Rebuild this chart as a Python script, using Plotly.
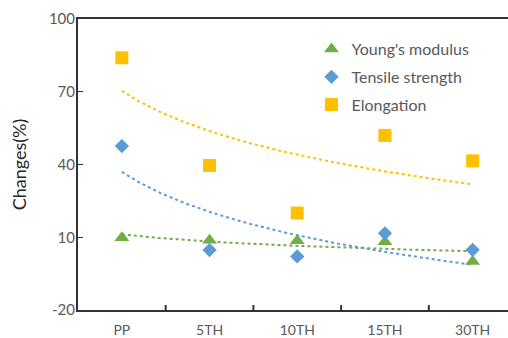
import numpy as np
import plotly.graph_objects as go

categories = ["PP", "5TH", "10TH", "15TH", "30TH"]
youngs_modulus = [9.8, 8.8, 8.6, 8.1, 0.0]
tensile_strength = [47.6, 4.7, 2.1, 11.6, 4.8]
elongation = [84.0, 39.6, 20.0, 52.0, 41.5]
y_ticks = [-20, 10, 40, 70, 100]
y_tick_labels = ["-20", "10", "40", "70", "100"]

names = ["Young's modulus", "Tensile strength", "Elongation"]
colors = ["#70AD47", "#5B9BD5", "#FFC000"]
symbols = ["triangle-up", "diamond", "square"]
sizes = [13, 11, 13]
series = [youngs_modulus, tensile_strength, elongation]

xpos = np.arange(len(categories))
lnx = np.log(xpos + 1)
xfine = np.linspace(0, len(categories) - 1, 200)

fig = go.Figure()
# trendlines (logarithmic least-squares fit, like Excel)
for name, vals, col in zip(names, series, colors):
    a, b = np.polyfit(lnx, np.array(vals), 1)
    fig.add_trace(go.Scatter(x=xfine, y=a * np.log(xfine + 1) + b, mode="lines",
                             line=dict(color=col, width=2, dash="dot"),
                             showlegend=False, hoverinfo="skip"))
for i, (name, vals, col, sym, sz) in enumerate(zip(names, series, colors, symbols, sizes)):
    fig.add_trace(go.Scatter(x=xpos, y=vals, mode="markers", name=name,
                             legendgroup=str(i),
                             marker=dict(color=col, symbol=sym, size=sz)))

fig.update_layout(
    width=508, height=338,
    margin=dict(l=78, r=0, t=19, b=28),
    paper_bgcolor="white", plot_bgcolor="white",
    font=dict(family="Lato, Open Sans, sans-serif", color="#595959", size=15),
    legend=dict(x=0.543, y=0.955, xanchor="left", yanchor="top",
                font=dict(size=16, color="#595959"),
                bgcolor="rgba(0,0,0,0)", tracegroupgap=4, itemwidth=30),
    showlegend=True,
)
fig.update_xaxes(range=[-0.5, 4.403], tickvals=list(xpos), ticktext=categories,
                 showgrid=False, zeroline=False, showline=True, linecolor="#333333",
                 linewidth=2, mirror=True, ticks="", tickfont=dict(size=14),
                 automargin=False, ticklabelstandoff=6)
fig.update_yaxes(range=[-20, 100], tickvals=y_ticks, ticktext=y_tick_labels,
                 showgrid=False, zeroline=False,
                 showline=True, linecolor="#333333", linewidth=2, ticks="inside",
                 ticklen=5, tickcolor="#333333", automargin=False, ticklabelstandoff=-2,
                 title=dict(text="Changes(%)", font=dict(size=18, color="#262626"), standoff=18),
                 tickfont=dict(size=15))
# category boundary ticks on x axis
for k in range(1, len(categories) + 1):
    fig.add_shape(type="line", xref="x", yref="paper", x0=k - 0.5, x1=k - 0.5, y0=0, y1=0.017,
                  line=dict(color="#333333", width=2))

fig.write_html("out.html", post_script="document.body.style.margin='0';",
               config={"displayModeBar": False})
